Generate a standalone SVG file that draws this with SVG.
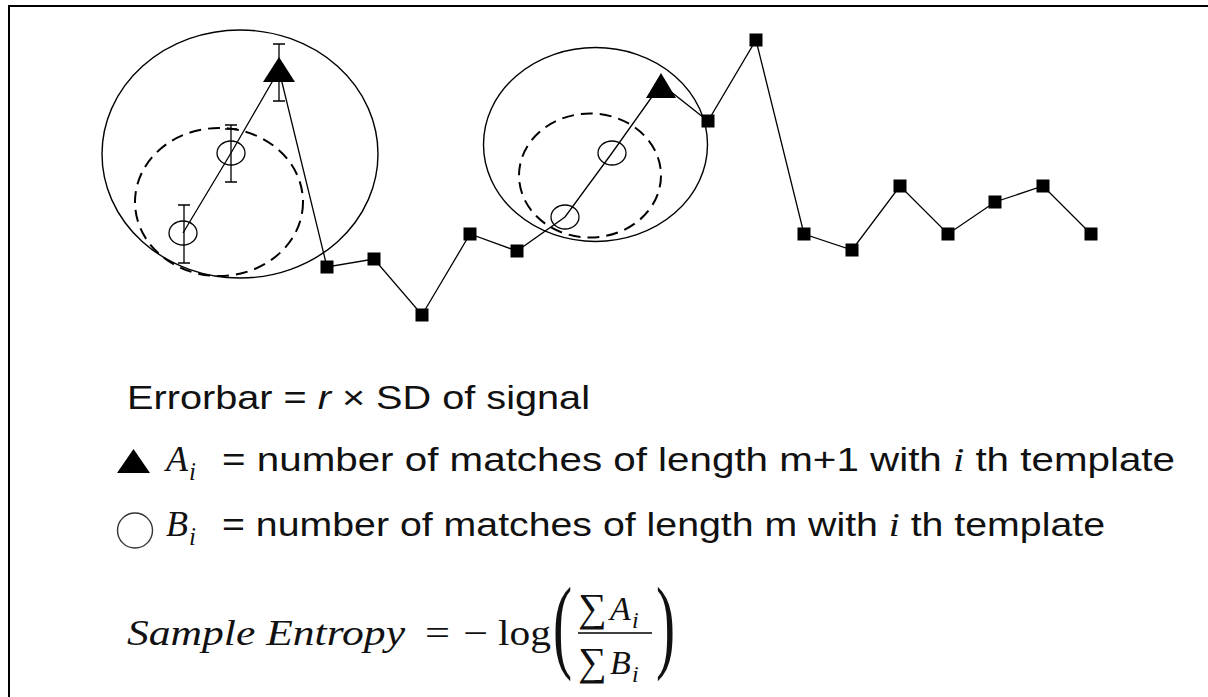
<svg xmlns="http://www.w3.org/2000/svg" xmlns:xlink="http://www.w3.org/1999/xlink" width="1208" height="697" viewBox="0 0 1208 697">
<style>
.ln{fill:none;stroke:#000;stroke-width:1.3}
.dash{fill:none;stroke:#000;stroke-width:2;stroke-dasharray:12 7}
.big{fill:none;stroke:#000;stroke-width:1.4}
.mk{fill:none;stroke:#000;stroke-width:1.3}
.eb{fill:none;stroke:#000;stroke-width:1.3}
.sans{font-family:"Liberation Sans",Arial,sans-serif;font-size:34px;fill:#111}
.ser{font-family:"Liberation Serif","DejaVu Serif",serif;fill:#111}
.it{font-style:italic}
</style>
<defs>
<rect id="sq" x="-6.5" y="-6.5" width="13" height="13" fill="#000"/>
</defs>
<rect id="frame" x="9" y="6" width="1250" height="750" fill="#fff" stroke="#000" stroke-width="2"/>

<g id="ellipses">
<ellipse id="left-outer" class="big" cx="240" cy="154" rx="138" ry="124"/>
<ellipse id="left-inner" class="dash" cx="219" cy="202" rx="84" ry="74"/>
<ellipse id="right-outer" class="big" cx="595.5" cy="144.5" rx="112" ry="97"/>
<ellipse id="right-inner" class="dash" cx="590" cy="175.5" rx="71" ry="62"/>
</g>

<g id="connectors">
<polyline class="ln" points="183,233 231,153 279,70 327,267 374,259 422,315 470,234 517,251 565,217 612,153 661,84 708,121 756,40 804,234 852,250 900,186 948,234 995,202 1043,186 1091,234"/>
</g>

<g id="tri1">
<path class="eb" d="M279,44V101M273,44H285M273,101H285"/>
<polygon points="279,57 263,82 295,82" fill="#000"/>
</g>
<g id="circ1a">
<path class="eb" d="M231,125V182M225,125H237M225,129H237M225,182H237"/>
<ellipse class="mk" cx="231" cy="153" rx="14" ry="12"/>
</g>
<g id="circ1b">
<path class="eb" d="M184,205V263M178,205H190M178,263H190"/>
<ellipse class="mk" cx="183" cy="233" rx="14" ry="12"/>
</g>
<g id="tri2"><polygon points="661,73 646,98 676,98" fill="#000"/></g>
<g id="circ2a"><ellipse class="mk" cx="612" cy="153" rx="14" ry="12"/></g>
<g id="circ2b"><ellipse class="mk" cx="565" cy="217" rx="14" ry="12"/></g>

<g id="points">
<use id="p1" xlink:href="#sq" x="327" y="267"/>
<use id="p2" xlink:href="#sq" x="374" y="259"/>
<use id="p3" xlink:href="#sq" x="422" y="315"/>
<use id="p4" xlink:href="#sq" x="470" y="234"/>
<use id="p5" xlink:href="#sq" x="517" y="251"/>
<use id="p6" xlink:href="#sq" x="708" y="121"/>
<use id="p7" xlink:href="#sq" x="756" y="40"/>
<use id="p8" xlink:href="#sq" x="804" y="234"/>
<use id="p9" xlink:href="#sq" x="852" y="250"/>
<use id="p10" xlink:href="#sq" x="900" y="186"/>
<use id="p11" xlink:href="#sq" x="948" y="234"/>
<use id="p12" xlink:href="#sq" x="995" y="202"/>
<use id="p13" xlink:href="#sq" x="1043" y="186"/>
<use id="p14" xlink:href="#sq" x="1091" y="234"/>
</g>

<g id="legend-errorbar">
<text class="sans" x="127" y="409" textLength="463" lengthAdjust="spacingAndGlyphs">Errorbar = <tspan class="it">r</tspan> × SD of signal</text>
</g>

<g id="legend-a">
<polygon points="133.5,449 117,473 150,473" fill="#000"/>
<text class="ser it" x="166" y="471" font-size="36">A</text>
<text class="ser it" x="189" y="480" font-size="25">i</text>
<text class="sans" x="222" y="471" textLength="953" lengthAdjust="spacingAndGlyphs">= number of matches of length m+1 with <tspan class="ser it">i</tspan> th template</text>
</g>

<g id="legend-b">
<circle cx="135" cy="530.5" r="17.5" fill="none" stroke="#333" stroke-width="1.4"/>
<text class="ser it" x="166" y="536" font-size="36">B</text>
<text class="ser it" x="189" y="545" font-size="25">i</text>
<text class="sans" x="222" y="536" textLength="883" lengthAdjust="spacingAndGlyphs">= number of matches of length m with <tspan class="ser it">i</tspan> th template</text>
</g>

<g id="formula">
<text class="ser it" x="127" y="645" font-size="36" textLength="278" lengthAdjust="spacingAndGlyphs">Sample Entropy</text>
<text class="ser" x="425" y="645" font-size="36" textLength="25" lengthAdjust="spacingAndGlyphs">=</text>
<text class="ser" x="463" y="645" font-size="36" textLength="25" lengthAdjust="spacingAndGlyphs">−</text>
<text class="ser" x="498" y="645" font-size="36" textLength="53" lengthAdjust="spacingAndGlyphs">log</text>
<text class="ser" font-size="104" transform="translate(553,659) scale(0.55,1)">(</text>
<text class="ser" x="578" y="621" font-size="40">∑</text>
<text class="ser it" x="610" y="620" font-size="34">A</text>
<text class="ser it" x="632" y="628" font-size="24">i</text>
<line x1="578" y1="633" x2="652" y2="633" stroke="#000" stroke-width="1.6"/>
<text class="ser" x="578" y="675" font-size="40">∑</text>
<text class="ser it" x="610" y="674" font-size="34">B</text>
<text class="ser it" x="632" y="682" font-size="24">i</text>
<text class="ser" font-size="104" transform="translate(656,659) scale(0.55,1)">)</text>
</g>
</svg>
